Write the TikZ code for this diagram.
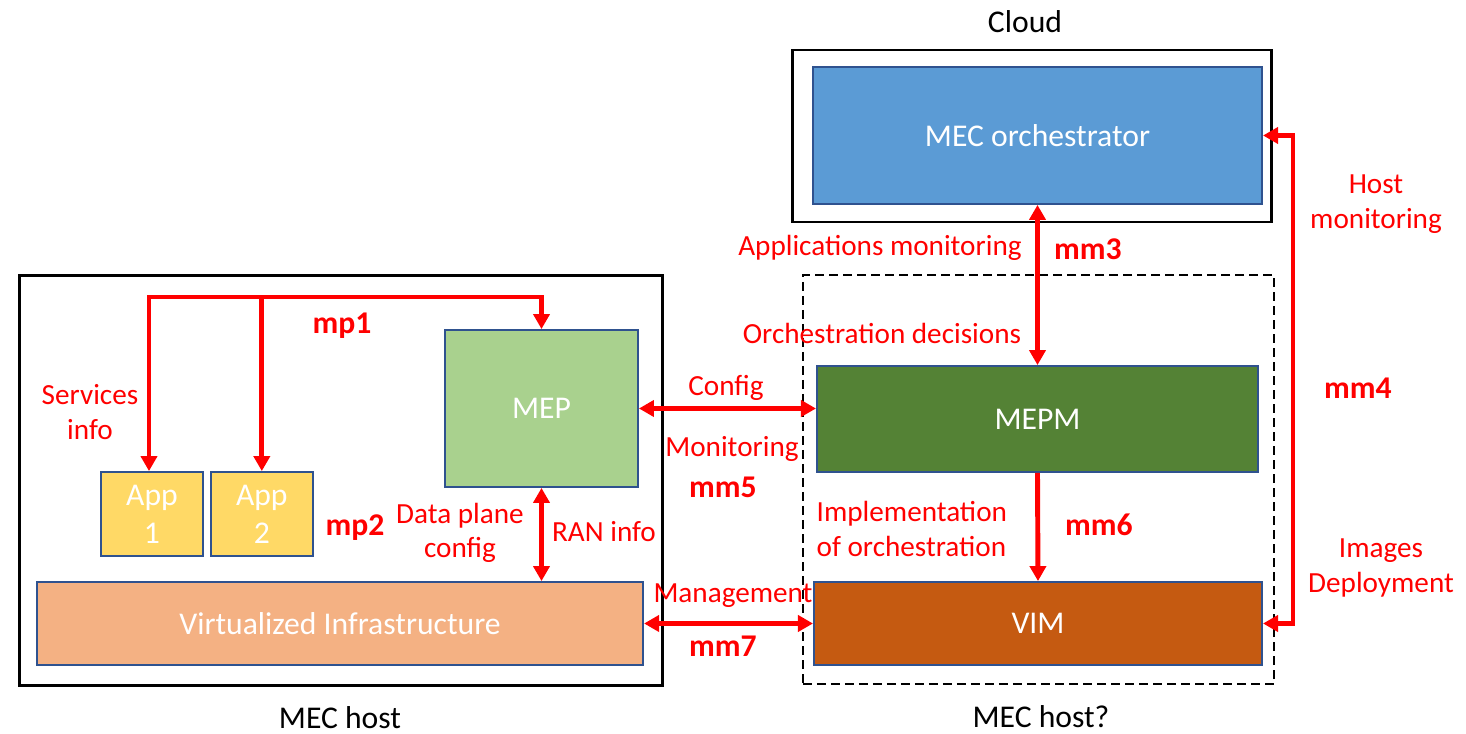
\documentclass[tikz,border=0pt]{standalone}
\usepackage{fontspec}
\setmainfont{Carlito}
\usetikzlibrary{arrows.meta,positioning}

\definecolor{edgeblue}{HTML}{2F528F}
\definecolor{orchblue}{HTML}{5B9BD5}
\definecolor{mepgreen}{HTML}{A9D18E}
\definecolor{appyellow}{HTML}{FFD966}
\definecolor{infraorange}{HTML}{F4B183}
\definecolor{mepmgreen}{HTML}{548235}
\definecolor{vimbrown}{HTML}{C55A11}

\begin{document}
\begin{tikzpicture}
            [x = 0.01cm, y = -0.01cm,
             frame/.style = {draw, line width = 0.8pt, inner sep = 0pt},
             box/.style = {draw = edgeblue, line width = 0.5pt, text = white, align = center,
                           inner sep = 0pt, font = \fontsize{9}{10.8}\selectfont},
             sig/.style = {red, line width = 1.4pt, >={Triangle[length = 1.5mm, width = 1.6mm]}},
             note/.style = {text = red, align = center, inner sep = 0pt, font = \fontsize{8.3}{9.8}\selectfont},
             tag/.style = {text = red, inner sep = 0pt, font = \fontsize{9}{10.8}\selectfont\bfseries},
             hosttitle/.style = {inner sep = 0pt, font = \fontsize{9}{10.8}\selectfont}]
            \useasboundingbox (0,0) rectangle (1466,734);

            % hosts and cloud
            \node[frame, minimum width = 6.42cm, minimum height = 4.09cm] (host) at (341,480.5) {};
            \node[frame, minimum width = 4.78cm, minimum height = 1.72cm] (cloud) at (1032,136) {};
            \node[frame, line width = 0.7pt, dash pattern = on 0.09cm off 0.05cm,
                  minimum width = 4.71cm, minimum height = 4.09cm] (edge) at (1038.5,479.5) {};
            \node[hosttitle] (cloudname) at (1025,22) {Cloud};
            \node[hosttitle] (hostname) at (340,718) {MEC host};
            \node[hosttitle] (edgename) at (1041,717) {MEC host?};

            % components
            \node[box, fill = orchblue, minimum width = 4.49cm, minimum height = 1.37cm] (orch) at (1037.5,135.5) {MEC orchestrator};
            \node[box, fill = mepgreen, minimum width = 1.93cm, minimum height = 1.57cm] (mep) at (541.5,408.5) {MEP};
            \node[box, fill = appyellow, minimum width = 1.02cm, minimum height = 0.84cm] (app1) at (152,514) {App\\1};
            \node[box, fill = appyellow, minimum width = 1.02cm, minimum height = 0.84cm] (app2) [right = 0.06cm of app1] {App\\2};
            \node[box, fill = infraorange, minimum width = 6.06cm, minimum height = 0.83cm] (infra) at (340,623.5) {Virtualized Infrastructure};
            \node[box, fill = mepmgreen, minimum width = 4.41cm, minimum height = 1.06cm] (mepm) at (1037.5,419) {MEPM};
            \node[box, fill = vimbrown, minimum width = 4.48cm, minimum height = 0.83cm] (vim) at (1038,623.5) {VIM};

            % reference points
            \coordinate (bus) at (149,297);
            \coordinate (loop) at (1293,0);

            % reference points links
            \draw[sig, <->] (bus |- app1.north) -- (bus) -| (mep.north);
            \draw[sig, ->] (app2.north |- bus) -- (app2.north);
            \draw[sig, <->] (mep.south) -- (mep.south |- infra.north);
            \draw[sig, <->] (mep.east) -- (mep.east -| mepm.west);
            \draw[sig, <->] (infra.east) -- (vim.west);
            \draw[sig, <->] (orch.south) -- (mepm.north);
            \draw[sig, ->] (mepm.south) -- (vim.north);
            \draw[sig, <->] (vim.east) -- (vim.east -| loop) -- (orch.east -| loop) -- (orch.east);

            % labels
            \node[note] (svc) at (90,412) {Services\\info};
            \node[tag] (mp1) at (342,326) {mp1};
            \node[tag] (mp2) at (355,528) {mp2};
            \node[note] (dpc) at (460,533) {Data plane\\config};
            \node[note] (ran) at (604,532) {RAN info};
            \node[note] (cfg) at (726,388) {Config};
            \node[note] (mon) at (732,449) {Monitoring};
            \node[tag] (mm5) at (723,487) {mm5};
            \node[note] (mgmt) at (733,596) {Management};
            \node[tag] (mm7) at (723,646) {mm7};
            \node[note] (appmon) at (880,248) {Applications monitoring};
            \node[tag] (mm3) at (1088,249) {mm3};
            \node[note] (decide) at (882,333) {Orchestration decisions};
            \node[note, anchor = west, align = left] (impl) at (816,529) {Implementation\\of orchestration};
            \node[tag] (mm6) at (1099,525) {mm6};
            \node[note] (hostmon) at (1376,204) {Host\\monitoring};
            \node[tag] (mm4) at (1358,388) {mm4};
            \node[note] (deploy) at (1381,568) {Images\\Deployment};
\end{tikzpicture}
\end{document}
